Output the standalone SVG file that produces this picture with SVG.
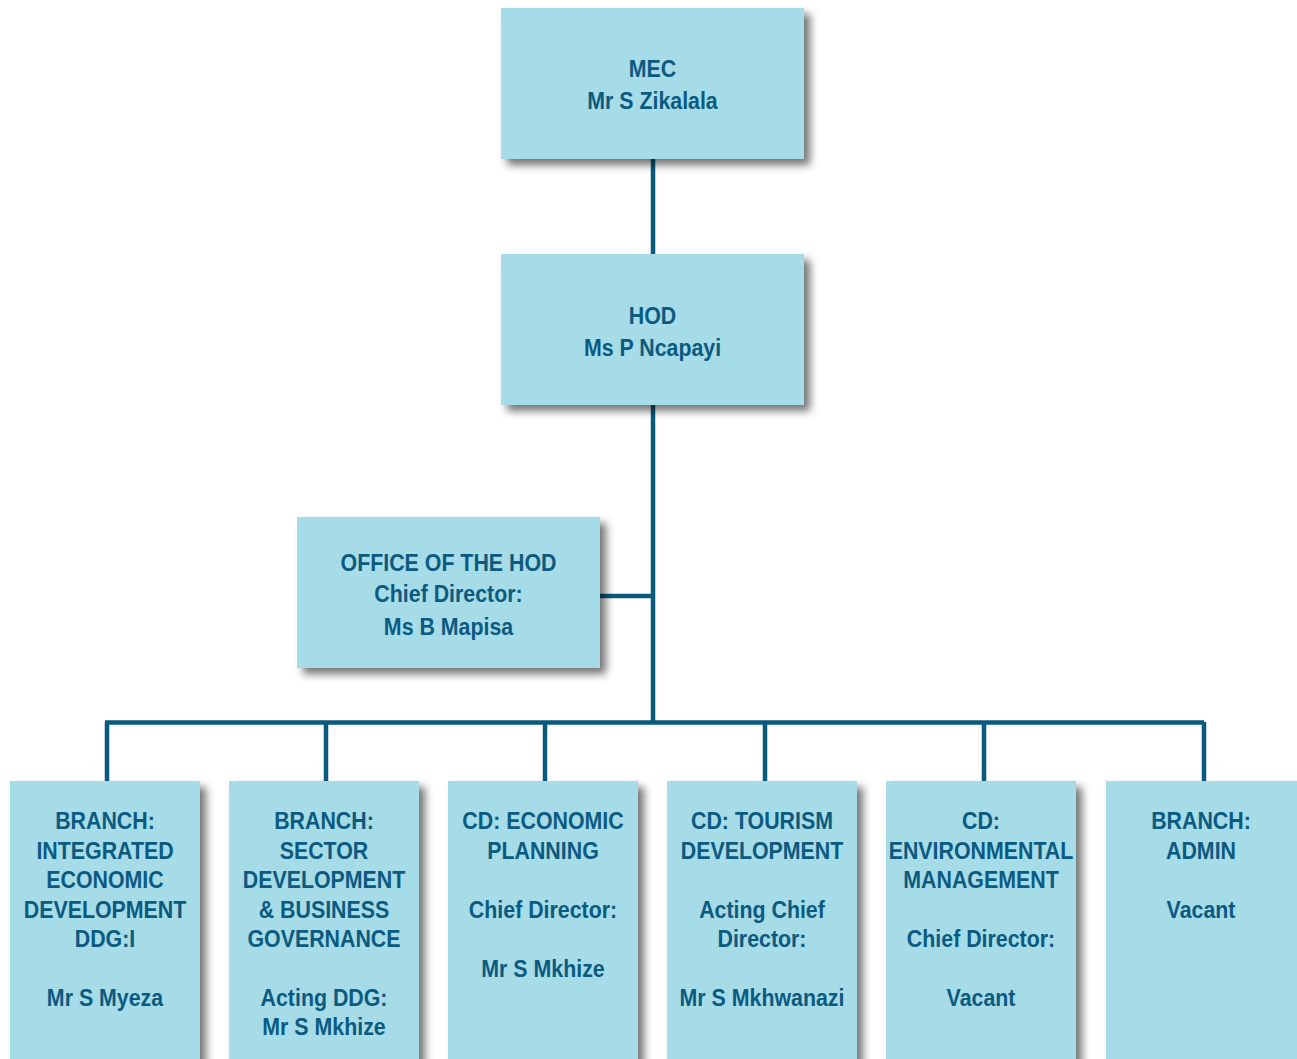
<svg xmlns="http://www.w3.org/2000/svg" width="1297" height="1059" viewBox="0 0 1297 1059">
<style>
.box{fill:#a6dbe8;filter:url(#sh)}
.t{font-family:"Liberation Sans",Arial,sans-serif;font-weight:bold;font-size:24px;fill:#0b5a80;text-anchor:middle}
.c{stroke:#0a5a7e;stroke-width:4.5;fill:none}
</style>
<defs>
<filter id="sh" x="-10%" y="-10%" width="130%" height="130%">
<feDropShadow dx="6" dy="6" stdDeviation="4.5" flood-color="#000" flood-opacity="0.55"/>
</filter>
</defs>
<rect width="1297" height="1059" fill="#fff"/>
<g id="connectors">
<path class="c" d="M653 159V254M653 405V722M600 596H653M105 722.5H1204M107 722V781M326 722V781M545 722V781M765 722V781M984 722V781M1204 722V781"/>
</g>
<g id="mec">
<rect class="box" x="501" y="8" width="303" height="151"/>
<g transform="translate(652.5,0) scale(0.89,1)"><text class="t" x="0" y="77">MEC</text><text class="t" x="0" y="109">Mr S Zikalala</text></g>
</g>
<g id="hod">
<rect class="box" x="501" y="254" width="303" height="151"/>
<g transform="translate(652.5,0) scale(0.89,1)"><text class="t" x="0" y="324">HOD</text><text class="t" x="0" y="356">Ms P Ncapayi</text></g>
</g>
<g id="office">
<rect class="box" x="297" y="517" width="303" height="151"/>
<g transform="translate(448.5,0) scale(0.89,1)"><text class="t" x="0" y="571">OFFICE OF THE HOD</text><text class="t" x="0" y="602">Chief Director:</text><text class="t" x="0" y="635">Ms B Mapisa</text></g>
</g>
<g id="b1">
<rect class="box" x="10" y="781" width="190" height="290"/>
<g transform="translate(105,0) scale(0.89,1)"><text class="t" x="0" y="829">BRANCH:</text><text class="t" x="0" y="859">INTEGRATED</text><text class="t" x="0" y="888">ECONOMIC</text><text class="t" x="0" y="918">DEVELOPMENT</text><text class="t" x="0" y="947">DDG:I</text><text class="t" x="0" y="1006">Mr S Myeza</text></g>
</g>
<g id="b2">
<rect class="box" x="229" y="781" width="190" height="290"/>
<g transform="translate(324,0) scale(0.89,1)"><text class="t" x="0" y="829">BRANCH:</text><text class="t" x="0" y="859">SECTOR</text><text class="t" x="0" y="888">DEVELOPMENT</text><text class="t" x="0" y="918">&amp; BUSINESS</text><text class="t" x="0" y="947">GOVERNANCE</text><text class="t" x="0" y="1006">Acting DDG:</text><text class="t" x="0" y="1035">Mr S Mkhize</text></g>
</g>
<g id="b3">
<rect class="box" x="448" y="781" width="190" height="290"/>
<g transform="translate(543,0) scale(0.89,1)"><text class="t" x="0" y="829">CD: ECONOMIC</text><text class="t" x="0" y="859">PLANNING</text><text class="t" x="0" y="918">Chief Director:</text><text class="t" x="0" y="977">Mr S Mkhize</text></g>
</g>
<g id="b4">
<rect class="box" x="667" y="781" width="190" height="290"/>
<g transform="translate(762,0) scale(0.89,1)"><text class="t" x="0" y="829">CD: TOURISM</text><text class="t" x="0" y="859">DEVELOPMENT</text><text class="t" x="0" y="918">Acting Chief</text><text class="t" x="0" y="947">Director:</text><text class="t" x="0" y="1006">Mr S Mkhwanazi</text></g>
</g>
<g id="b5">
<rect class="box" x="886" y="781" width="190" height="290"/>
<g transform="translate(981,0) scale(0.89,1)"><text class="t" x="0" y="829">CD:</text><text class="t" x="0" y="859">ENVIRONMENTAL</text><text class="t" x="0" y="888">MANAGEMENT</text><text class="t" x="0" y="947">Chief Director:</text><text class="t" x="0" y="1006">Vacant</text></g>
</g>
<g id="b6">
<rect class="box" x="1106" y="781" width="195" height="290"/>
<g transform="translate(1201,0) scale(0.89,1)"><text class="t" x="0" y="829">BRANCH:</text><text class="t" x="0" y="859">ADMIN</text><text class="t" x="0" y="918">Vacant</text></g>
</g>
</svg>
